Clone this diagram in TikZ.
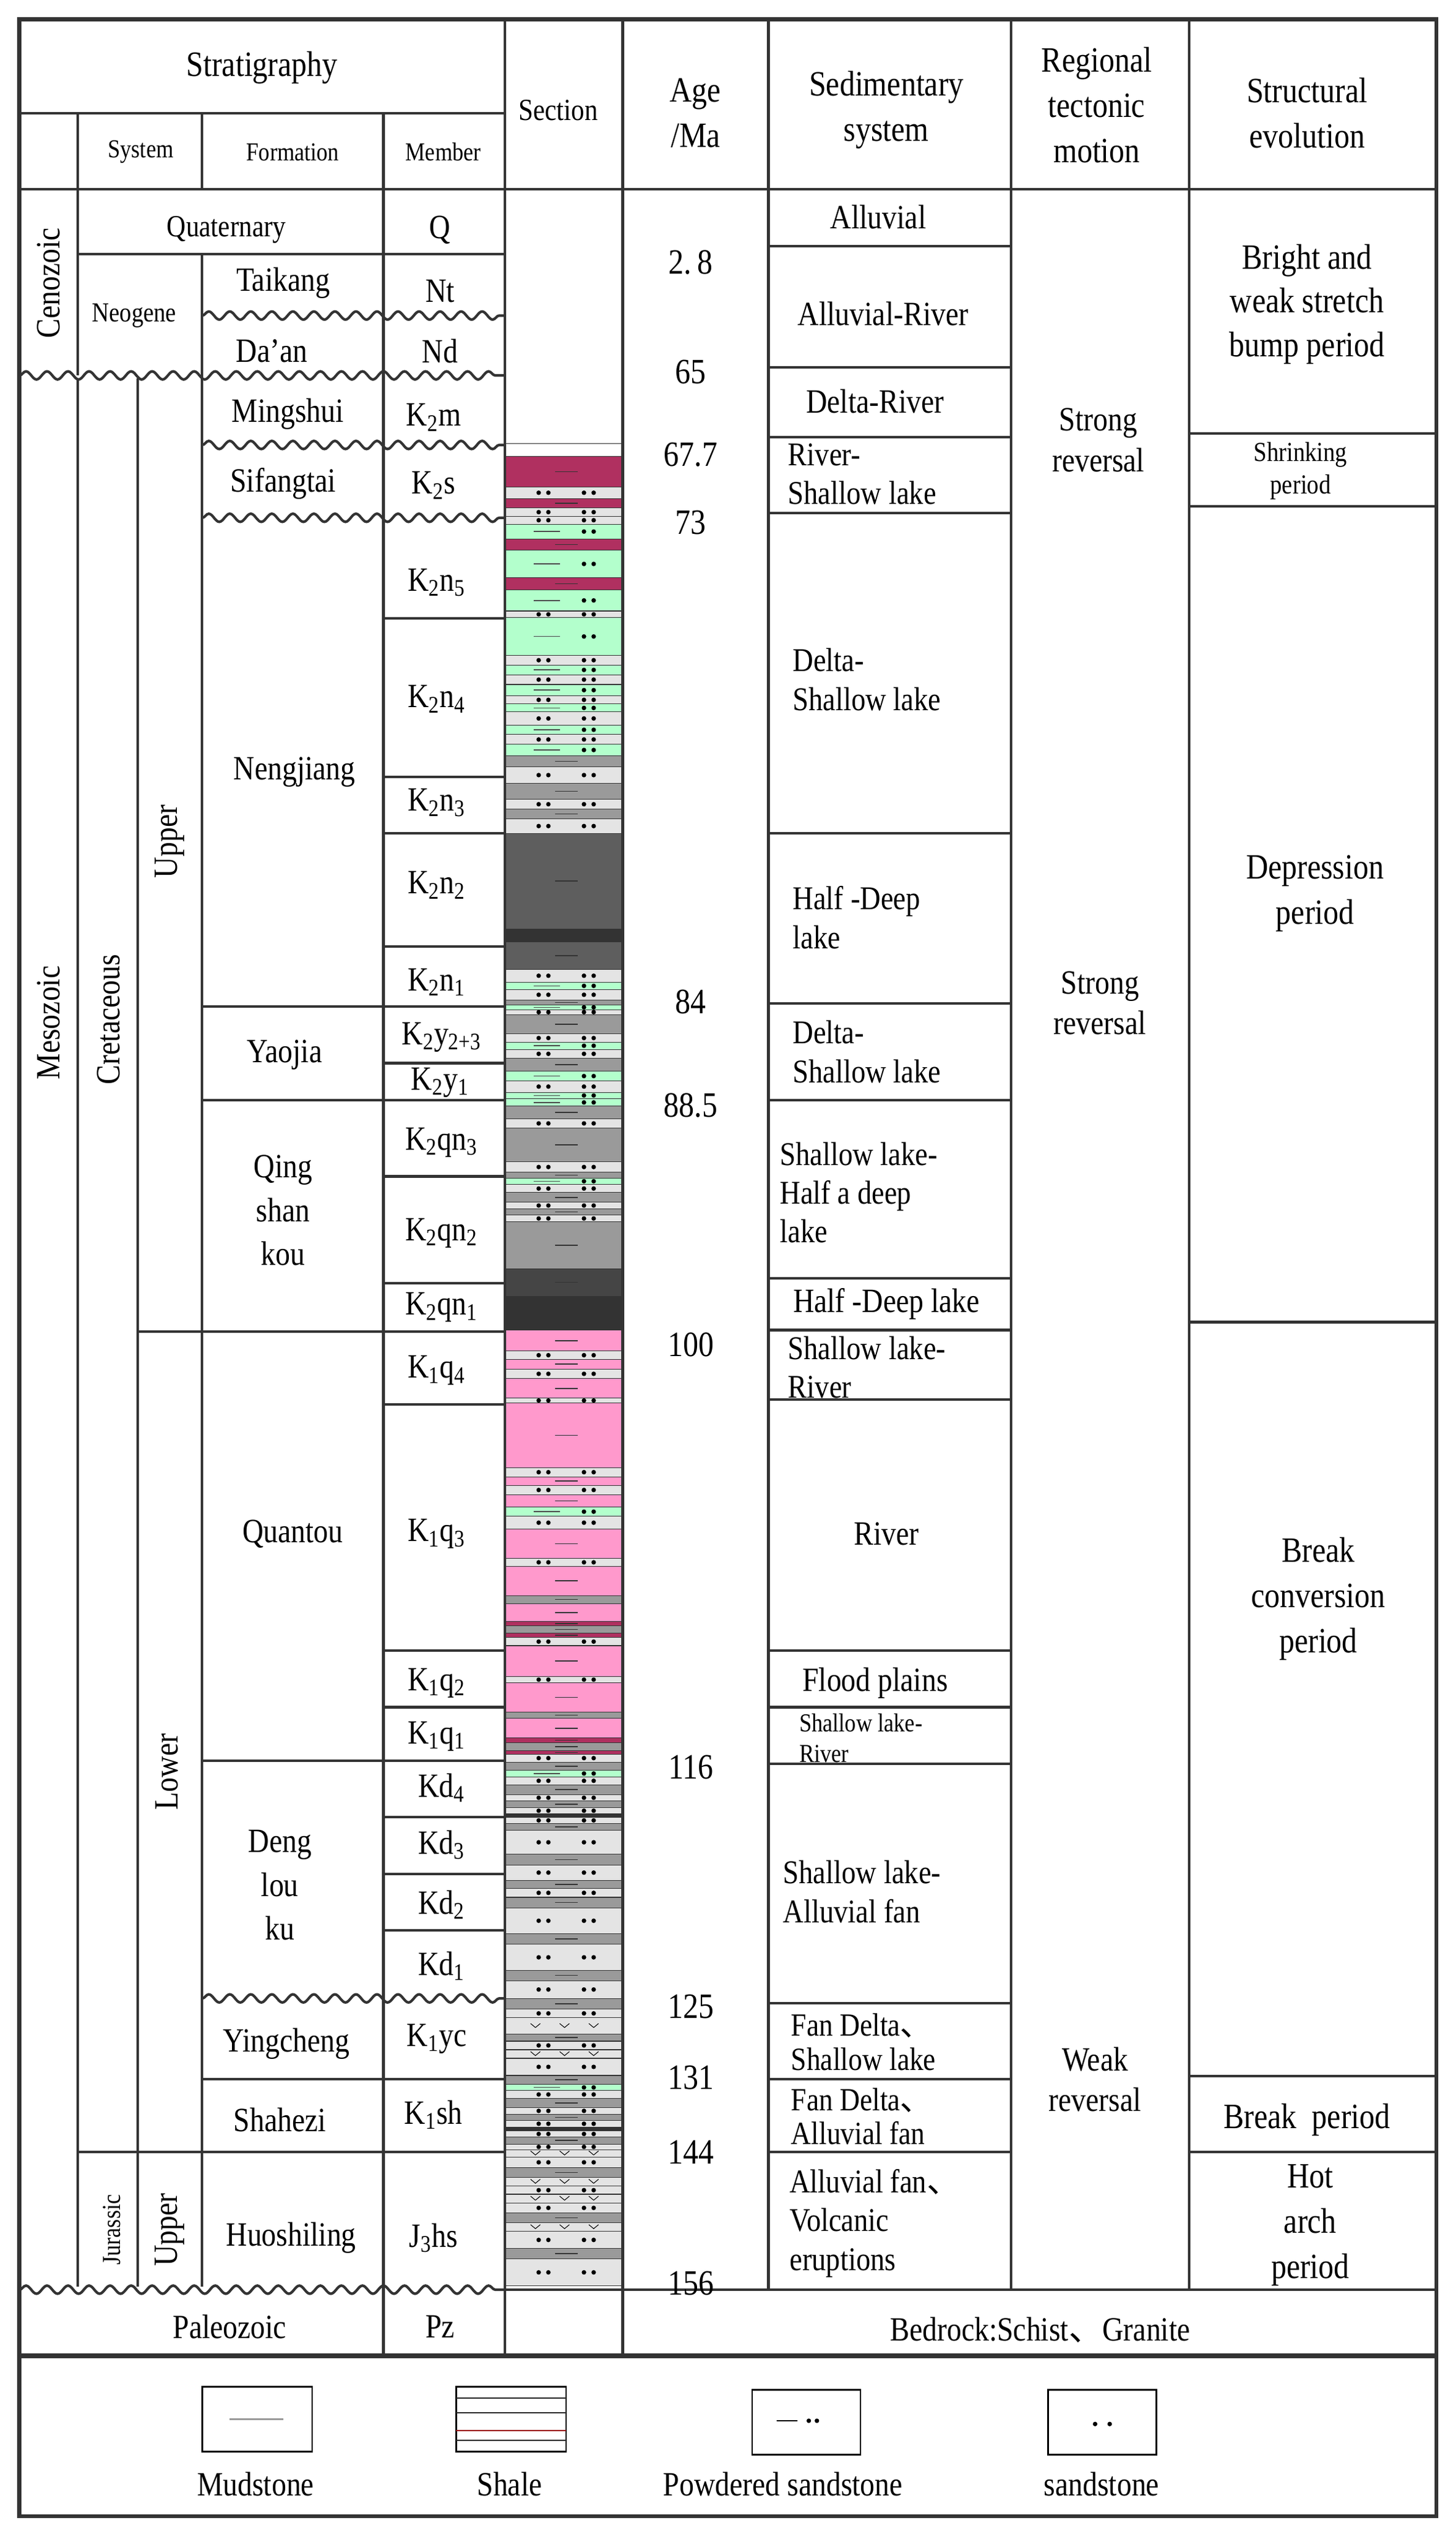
\documentclass[tikz,border=0pt]{standalone}
\usepackage{fontspec}
\setmainfont{Liberation Serif}[FakeStretch=0.86]
\newfontfamily\cjk{Noto Sans CJK SC}
\usetikzlibrary{decorations.pathmorphing}
\definecolor{cM}{HTML}{B03060}
\definecolor{cG}{HTML}{B3FFCC}
\definecolor{cS}{HTML}{E4E4E4}
\definecolor{cK}{HTML}{9A9A9A}
\definecolor{cD}{HTML}{5E5E5E}
\definecolor{cE}{HTML}{454545}
\definecolor{cB}{HTML}{333333}
\definecolor{cP}{HTML}{FF99CC}
\definecolor{ln}{HTML}{333333}
\newcommand\dn{{\cjk 、}}
\newcommand\lbox[3]{\filldraw[fill=#3,draw=ln,line width=0.4pt] (312.8,#1) rectangle (384.2,#2);}
\newcommand\ldash[2]{\draw[line width=0.6pt,black!80] (343,{(#1+#2)/2}) -- (357,{(#1+#2)/2});}
\newcommand\ldotz[2]{\foreach \xx in {333,339,361,367}{\fill (\xx,{(#1+#2)/2}) circle (1.4);}}
\newcommand\lithW[2]{\lbox{#1}{#2}{white}}
\newcommand\lithM[2]{\lbox{#1}{#2}{cM}\ldash{#1}{#2}}
\newcommand\lithK[2]{\lbox{#1}{#2}{cK}\ldash{#1}{#2}}
\newcommand\lithD[2]{\lbox{#1}{#2}{cD}\ldash{#1}{#2}}
\newcommand\lithE[2]{\lbox{#1}{#2}{cE}\ldash{#1}{#2}}
\newcommand\lithB[2]{\lbox{#1}{#2}{cB}}
\newcommand\lithP[2]{\lbox{#1}{#2}{cP}\ldash{#1}{#2}}
\newcommand\lithS[2]{\lbox{#1}{#2}{cS}\ldotz{#1}{#2}}
\newcommand\lithG[2]{\lbox{#1}{#2}{cG}\draw[line width=0.6pt,black!70] (330,{(#1+#2)/2}) -- (346,{(#1+#2)/2});\foreach \xx in {361,367}{\fill (\xx,{(#1+#2)/2}) circle (1.4);}}
\newcommand\lithV[2]{\lbox{#1}{#2}{cS}\foreach \xx in {331,349,367}{\draw[line width=0.4pt] (\xx-3,{(#1+#2)/2-1.5}) -- (\xx,{(#1+#2)/2+1}) -- (\xx+3,{(#1+#2)/2-1.5});}}
\begin{document}
\begin{tikzpicture}[x=1pt,y=-1pt,
  tl/.style={line width=1.6pt,draw=ln},
  wv/.style={line width=1.6pt,draw=ln,decorate,decoration={snake,segment length=13pt,amplitude=2.5pt}},
  t/.style={font=\fontsize{21}{23}\selectfont,align=center,inner sep=0pt},
  ts/.style={font=\fontsize{16}{18}\selectfont,align=center,inner sep=0pt},
  tl2/.style={font=\fontsize{20.5}{24}\selectfont,align=left,anchor=west,inner sep=0pt},
  tm/.style={font=\fontsize{22}{23}\selectfont,inner sep=0pt}]
\useasboundingbox (0,0) rectangle (900,1566);
\fill[white] (0,0) rectangle (900,1566);
% section column
\lithW{274}{282}\lithM{282}{301}\lithS{301}{308}\lithM{308}{314}\lithS{314}{319}\lithS{319}{324}
\lithG{324}{333}\lithM{333}{340}\lithG{340}{357}\lithM{357}{364.5}\lithG{364.5}{377.6}\lithS{377.6}{381.7}
\lithG{381.7}{405}\lithS{405}{411}\lithG{411}{417}\lithS{417}{423}\lithG{423}{430}\lithS{430}{435}
\lithG{435}{440}\lithS{440}{448}\lithG{448}{454}\lithS{454}{460}\lithG{460}{467}\lithK{467}{474}
\lithS{474}{484}\lithK{484}{494}\lithS{494}{500}\lithK{500}{506}\lithS{506}{515}\lithD{515}{574}
\lithB{574}{582}\lithD{582}{599}\lithS{599}{607}\lithG{607}{611.5}\lithS{611.5}{618}\lithK{618}{621}
\lithG{621}{624}\lithS{624}{627}\lithK{627}{639}\lithS{639}{644}\lithG{644}{648.5}\lithS{648.5}{654}
\lithK{654}{662}\lithG{662}{668}\lithS{668}{675}\lithG{675}{679}\lithG{679}{683.6}\lithK{683.6}{691.5}
\lithS{691.5}{697}\lithK{697}{718}\lithS{718}{724.4}\lithK{724.4}{728}\lithG{728}{732}\lithS{732}{737}
\lithK{737}{743}\lithS{743}{747}\lithK{747}{751}\lithS{751}{755}\lithK{755}{784}\lithE{784}{801}
\lithB{801}{822}\lithP{822}{835}\lithS{835}{840}\lithP{840}{846}\lithS{846}{852}\lithP{852}{864}
\lithS{864}{867}\lithP{867}{907}\lithS{907}{912.6}\lithP{912.6}{918}\lithS{918}{923.6}\lithP{923.6}{931.4}
\lithG{931.4}{937}\lithS{937}{945}\lithP{945}{963}\lithS{963}{968}\lithP{968}{986}\lithK{986}{991}
\lithP{991}{1002}\lithM{1002}{1004.7}\lithK{1004.7}{1009.2}\lithM{1009.2}{1012}\lithS{1012}{1017}
\lithP{1017}{1036}\lithS{1036}{1040}\lithP{1040}{1058}\lithK{1058}{1062}\lithP{1062}{1074}\lithM{1074}{1077}
\lithK{1077}{1082}\lithM{1082}{1084}\lithS{1084}{1089}\lithK{1089}{1094}\lithG{1094}{1098}\lithS{1098}{1103}
\lithK{1103}{1109}\lithS{1109}{1113}\lithK{1113}{1117}\lithS{1117}{1121}\lithB{1121}{1123}\lithS{1123}{1127}
\lithK{1127}{1131}\lithS{1131}{1146}\lithK{1146}{1152.5}\lithS{1152.5}{1162}\lithK{1162}{1167}\lithS{1167}{1172.5}
\lithK{1172.5}{1179}\lithS{1179}{1195}\lithK{1195}{1201.6}\lithS{1201.6}{1217.6}\lithK{1217.6}{1224}\lithS{1224}{1235}
\lithK{1235}{1241.5}\lithS{1241.5}{1247}\lithV{1247}{1257}\lithK{1257}{1261.4}\lithS{1261.4}{1266.7}\lithV{1266.7}{1272}
\lithS{1272}{1282.6}\lithK{1282.6}{1288}\lithG{1288}{1292}\lithS{1292}{1296.7}\lithK{1296.7}{1302.5}\lithS{1302.5}{1306.5}
\lithK{1306.5}{1310.5}\lithS{1310.5}{1314.4}\lithB{1314.4}{1317}\lithS{1317}{1320.5}\lithK{1320.5}{1325}\lithS{1325}{1328.5}
\lithV{1328.5}{1333}\lithS{1333}{1339.6}\lithK{1339.6}{1345.5}\lithV{1345.5}{1351}\lithS{1351}{1356}\lithV{1356}{1361.4}
\lithS{1361.4}{1367.5}\lithK{1367.5}{1373.6}\lithV{1373.6}{1379}\lithS{1379}{1389.5}\lithK{1389.5}{1396}\lithS{1396}{1412.6}
% outer frame
\draw[line width=2.6pt,draw=ln] (12,12) rectangle (888,1555);
\draw[line width=3pt,draw=ln] (12,1456) -- (888,1456);
% vertical lines
\draw[tl] (48,70) -- (48,232); \draw[tl] (48,234) -- (48,1413);
\draw[tl] (85,234) -- (85,1413);
\draw[tl] (125,70) -- (125,117); \draw[tl] (125,157) -- (125,1413);
\draw[tl] (237,70) -- (237,1455);
\draw[tl] (312,12) -- (312,1455); \draw[tl] (385,12) -- (385,1455);
\draw[tl] (475,12) -- (475,1415); \draw[tl] (625,12) -- (625,1415); \draw[tl] (735,12) -- (735,1415);
% horizontal lines
\draw[tl] (12,70) -- (312,70); \draw[tl] (12,117) -- (888,117);
\draw[tl] (48,157) -- (312,157);
\foreach \yy in {382,480,515,585,657,727,793,868,1020,1055,1123,1158,1193} {\draw[tl] (237,\yy) -- (312,\yy);}
\foreach \yy in {622,680,1088,1285} {\draw[tl] (125,\yy) -- (312,\yy);}
\draw[tl] (85,823) -- (312,823); \draw[tl] (48,1330) -- (312,1330);
\draw[tl] (312,1415) -- (888,1415);
\foreach \yy in {152,227,270,317,515,620,680,790,822,865,1020,1055,1090,1238,1285,1330} {\draw[tl] (475,\yy) -- (625,\yy);}
\foreach \yy in {268,313,817,1283,1330} {\draw[tl] (735,\yy) -- (888,\yy);}
% wavy lines
\draw[wv] (125,195) -- (312,195);
\draw[wv] (12,232) -- (312,232);
\draw[wv] (125,275) -- (312,275);
\draw[wv] (125,320) -- (312,320);
\draw[wv] (125,1235) -- (312,1235);
\draw[wv] (12,1415) -- (312,1415);
% header
\node[t,font=\fontsize{22}{24}\selectfont] (h1) at (162,42) {Stratigraphy};
\node[ts] (h2) at (87,94) {System};
\node[ts] (h3) at (181,94) {Formation};
\node[ts] (h4) at (274,94) {Member};
\node[ts,font=\fontsize{19}{21}\selectfont] (h5) at (345,68) {Section};
\node[t,font=\fontsize{22}{28}\selectfont] (h6) at (430,70) {Age\\/Ma};
\node[t,font=\fontsize{22}{28}\selectfont] (h7) at (548,68) {Sedimentary\\system};
\node[t,font=\fontsize{22}{28}\selectfont] (h8) at (678,65) {Regional\\tectonic\\motion};
\node[t,font=\fontsize{22}{28}\selectfont] (h9) at (808,70) {Structural\\evolution};
% eras
\node[t,rotate=90] (e1) at (30,175) {Cenozoic};
\node[t,rotate=90] (e2) at (30,632) {Mesozoic};
\node[t,rotate=90] (e3) at (67,630) {Cretaceous};
\node[t,rotate=90] (e4) at (105,520) {Upper};
\node[t,rotate=90] (e5) at (103,1095) {Lower};
\node[ts,rotate=90] (e6) at (69,1378) {Jurassic};
\node[t,rotate=90] (e7) at (105,1378) {Upper};
\node[ts,font=\fontsize{19}{21}\selectfont] (f0) at (140,142) {Quaternary};
\node[t] (m0) at (272,142) {Q};
\node[ts,font=\fontsize{17}{19}\selectfont] (n0) at (83,195) {Neogene};
\node[t] (f1) at (175,175) {Taikang}; \node[t] (m1) at (272,180) {Nt};
\node[t] (f2) at (168,217) {Da'an}; \node[t] (m2) at (272,217) {Nd};
\node[t] (f3) at (178,256) {Mingshui}; \node[t] (m3) at (268,258) {K\textsubscript{2}m};
\node[t] (f4) at (175,299) {Sifangtai}; \node[t] (m4) at (268,300) {K\textsubscript{2}s};
\node[t] (f5) at (182,477) {Nengjiang};
\node[t] (m5) at (270,360) {K\textsubscript{2}n\textsubscript{5}};
\node[t] (m6) at (270,432) {K\textsubscript{2}n\textsubscript{4}};
\node[t] (m7) at (270,496) {K\textsubscript{2}n\textsubscript{3}};
\node[t] (m8) at (270,547) {K\textsubscript{2}n\textsubscript{2}};
\node[t] (m9) at (270,607) {K\textsubscript{2}n\textsubscript{1}};
\node[t] (f6) at (176,652) {Yaojia};
\node[t] (m10) at (273,641) {K\textsubscript{2}y\textsubscript{2+3}};
\node[t] (m11) at (272,669) {K\textsubscript{2}y\textsubscript{1}};
\node[t,font=\fontsize{21}{27}\selectfont] (f7) at (175,748) {Qing\\shan\\kou};
\node[t] (m12) at (273,706) {K\textsubscript{2}qn\textsubscript{3}};
\node[t] (m13) at (273,762) {K\textsubscript{2}qn\textsubscript{2}};
\node[t] (m14) at (273,808) {K\textsubscript{2}qn\textsubscript{1}};
\node[t] (f8) at (181,948) {Quantou};
\node[t] (m15) at (270,847) {K\textsubscript{1}q\textsubscript{4}};
\node[t] (m16) at (270,948) {K\textsubscript{1}q\textsubscript{3}};
\node[t] (m17) at (270,1040) {K\textsubscript{1}q\textsubscript{2}};
\node[t] (m18) at (270,1073) {K\textsubscript{1}q\textsubscript{1}};
\node[t,font=\fontsize{21}{27}\selectfont] (f9) at (173,1165) {Deng\\lou\\ku};
\node[t] (m19) at (273,1105) {Kd\textsubscript{4}};
\node[t] (m20) at (273,1140) {Kd\textsubscript{3}};
\node[t] (m21) at (273,1177) {Kd\textsubscript{2}};
\node[t] (m22) at (273,1215) {Kd\textsubscript{1}};
\node[t] (f10) at (177,1263) {Yingcheng}; \node[t] (m23) at (270,1260) {K\textsubscript{1}yc};
\node[t] (f11) at (173,1310) {Shahezi}; \node[t] (m24) at (268,1307) {K\textsubscript{1}sh};
\node[t] (f12) at (180,1383) {Huoshiling}; \node[t] (m25) at (268,1383) {J\textsubscript{3}hs};
\node[t] (f13) at (142,1438) {Paleozoic}; \node[t] (m26) at (272,1438) {Pz};
% ages
\node[tm] (a1) at (427,162) {2.\,8};
\node[tm] (a2) at (427,230) {65};
\node[tm] (a3) at (427,281) {67.7};
\node[tm] (a4) at (427,323) {73};
\node[tm] (a5) at (427,619) {84};
\node[tm] (a6) at (427,683) {88.5};
\node[tm] (a7) at (427,831) {100};
\node[tm] (a8) at (427,1092) {116};
\node[tm] (a9) at (427,1240) {125};
\node[tm] (a10) at (427,1284) {131};
\node[tm] (a11) at (427,1330) {144};
\node[tm] (a12) at (427,1411) {156};
% sedimentary system
\node[t] (s1) at (543,134) {Alluvial};
\node[t] (s2) at (546,194) {Alluvial-River};
\node[t] (s3) at (541,248) {Delta-River};
\node[tl2] (s4) at (487,293) {River-\\Shallow lake};
\node[tl2] (s5) at (490,420) {Delta-\\Shallow lake};
\node[tl2] (s6) at (490,567) {Half -Deep\\lake};
\node[tl2] (s7) at (490,650) {Delta-\\Shallow lake};
\node[tl2] (s8) at (482,737) {Shallow lake-\\Half a deep\\lake};
\node[t] (s9) at (548,806) {Half -Deep lake};
\node[tl2] (s10) at (487,845) {Shallow lake-\\River};
\node[t] (s11) at (548,948) {River};
\node[t] (s12) at (541,1040) {Flood plains};
\node[tl2,font=\fontsize{16}{19}\selectfont] (s13) at (494,1074) {Shallow lake-\\River};
\node[tl2] (s14) at (484,1169) {Shallow lake-\\Alluvial fan};
\node[tl2,font=\fontsize{20}{21}\selectfont] (s15) at (489,1262) {Fan Delta\dn\\Shallow lake};
\node[tl2,font=\fontsize{20}{21}\selectfont] (s16) at (489,1308) {Fan Delta\dn\\Alluvial fan};
\node[tl2] (s17) at (488,1374) {Alluvial fan\dn\\Volcanic\\eruptions};
\node[t] (s18) at (643,1440) {Bedrock:Schist\dn Granite};
% tectonic
\node[t,font=\fontsize{21}{25}\selectfont] (r1) at (679,272) {Strong\\reversal};
\node[t,font=\fontsize{21}{25}\selectfont] (r2) at (680,620) {Strong\\reversal};
\node[t,font=\fontsize{21}{25}\selectfont] (r3) at (677,1285) {Weak\\reversal};
% structural
\node[t,font=\fontsize{22}{27}\selectfont] (v1) at (808,188) {Bright and\\weak stretch\\bump period};
\node[ts,font=\fontsize{17}{20}\selectfont] (v2) at (804,291) {Shrinking\\period};
\node[t,font=\fontsize{22}{28}\selectfont] (v3) at (813,552) {Depression\\period};
\node[t,font=\fontsize{22}{28}\selectfont] (v4) at (815,988) {Break\\conversion\\period};
\node[t,font=\fontsize{22}{22}\selectfont] (v5) at (808,1310) {Break\ \ period};
\node[t,font=\fontsize{22}{28}\selectfont] (v6) at (810,1375) {Hot\\arch\\period};
% legend
\draw[line width=1pt] (125,1475) rectangle (193,1515);
\draw[line width=1pt,black!40] (142,1495) -- (175,1495);
\draw[line width=1pt] (282,1475) rectangle (350,1515);
\foreach \yy in {1482,1491,1502,1508} {\draw[line width=0.8pt,black!85] (282,\yy) -- (350,\yy);}
\draw[line width=0.8pt,red!60!black] (282,1502) -- (350,1502);
\draw[line width=1pt] (465,1477) rectangle (532,1517);
\draw[line width=1pt] (480,1496) -- (493,1496);
\fill (500,1496) circle (1.4); \fill (505,1496) circle (1.4);
\draw[line width=1pt] (648,1477) rectangle (715,1517);
\fill (677,1498) circle (1.4); \fill (686,1498) circle (1.4);
\node[t] (l1) at (158,1535) {Mudstone};
\node[t] (l2) at (315,1535) {Shale};
\node[t] (l3) at (484,1535) {Powdered sandstone};
\node[t] (l4) at (681,1535) {sandstone};
\end{tikzpicture}
\end{document}
